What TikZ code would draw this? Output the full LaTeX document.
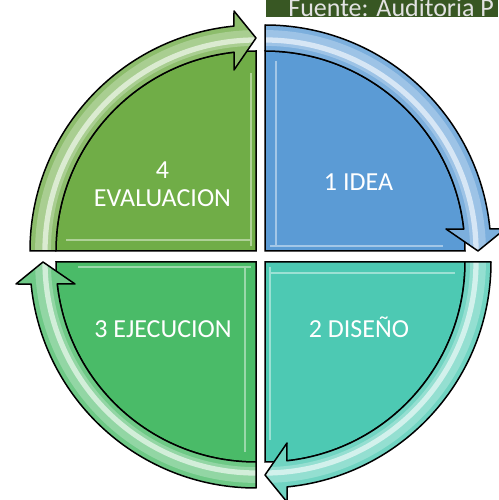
\documentclass[tikz,border=0pt]{standalone}
\usepackage{fontspec}
\setmainfont{Carlito}
\definecolor{ideablue}{HTML}{5B9BD5}
\definecolor{disenoteal}{HTML}{4DC9B3}
\definecolor{ejecgreen}{HTML}{4ABB68}
\definecolor{evalgreen}{HTML}{70AD47}
\definecolor{headgreen}{HTML}{385723}
\definecolor{headtext}{HTML}{E2E2E2}
\newcommand\arrowband{(90:226) arc[start angle=90, end angle=5.6, radius=226] -- (240,22) -- (213,0) -- (181,22) -- (6.3:200) arc[start angle=6.3, end angle=90, radius=200] -- cycle}
\begin{document}
\begin{tikzpicture}[x=0.02cm, y=0.02cm]
    \useasboundingbox (0,0) rectangle (498,500);
    \begin{scope}
        \clip (266,482.5) rectangle (498,500);
        \fill [headgreen] (266,482.5) rectangle (498,500);
        \node [anchor=base west, inner sep=0, text=headtext, font=\fontsize{14.8}{16}\selectfont] (fuente) at (288,483) {Fuente: Auditoria P};
    \end{scope}
    \foreach \cx/\cy/\rot/\col in {265/249/0/ideablue, 265/238/-90/disenoteal, 256/238/-180/ejecgreen, 256/249/90/evalgreen} {
        \begin{scope}[shift={(\cx,\cy)}, rotate=\rot]
            \filldraw [fill=\col, draw=black, line width=.85pt] (0,0) -- (90:200) arc [start angle=90, end angle=0, radius=200] -- cycle;
            \draw [\col!45!white, line width=1.4pt, opacity=.8] (11,190) -- (11,5) (5,5) -- (178,5);
            \fill [\col!80!white] \arrowband;
            \begin{scope}
                \clip \arrowband;
                \draw [\col!60!white, line width=9pt] (90:213) arc [start angle=90, end angle=-2, radius=213];
                \draw [\col!25!white, line width=3pt] (90:211) arc [start angle=90, end angle=-2, radius=211];
            \end{scope}
            \draw [black, line width=.85pt, line join=round] \arrowband;
        \end{scope}
    }
    \node [anchor=base, text=white, font=\fontsize{14.8}{16.5}\selectfont] (idea) at (358.5,309) {1 IDEA};
    \node [anchor=base, text=white, font=\fontsize{14.8}{16.5}\selectfont] (diseno) at (359,162) {2 DISEÑO};
    \node [anchor=base, text=white, font=\fontsize{14.8}{16.5}\selectfont] (ejecucion) at (163,162) {3 EJECUCION};
    \node [anchor=base, align=center, text=white, font=\fontsize{14.8}{16.5}\selectfont] (evaluacion) at (162.5,293) {4\\EVALUACION};
\end{tikzpicture}
\end{document}
